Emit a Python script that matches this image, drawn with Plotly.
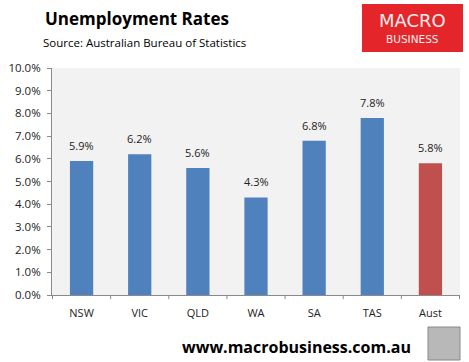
import plotly.graph_objects as go

categories = ["NSW", "VIC", "QLD", "WA", "SA", "TAS", "Aust"]
values = [5.9, 6.2, 5.6, 4.3, 6.8, 7.8, 5.8]
labels = ["5.9%", "6.2%", "5.6%", "4.3%", "6.8%", "7.8%", "5.8%"]
colors = ["#4f81bd"] * 6 + ["#c0504d"]
y_ticks = [i for i in range(0, 11)]
y_ticktext = [f"{v:.1f}%" for v in y_ticks]

W, H = 469, 362
L, R, T, B = 52, 9, 68, 67

fig = go.Figure(go.Bar(
    x=categories, y=values, marker=dict(color=colors, line=dict(width=0)),
    hoverinfo="x+y",
))

def px_x(x):
    return (x - L) / (W - L - R)

def px_y(y):
    return (y - B) / (H - T - B)

ann = [
    dict(text="<b>Unemployment Rates</b>", x=px_x(43), y=px_y(H - 18),
         xanchor="left", font=dict(family="Open Sans, DejaVu Sans", size=17, color="black")),
    dict(text="Source: Australian Bureau of Statistics", x=px_x(41), y=px_y(H - 42),
         xanchor="left", font=dict(family="Open Sans, DejaVu Sans", size=11.5, color="black")),
    dict(text="MACRO", x=px_x(412), y=px_y(H - 21), xanchor="center",
         font=dict(family="DejaVu Sans, Liberation Sans", size=18, color="#f6eeee")),
    dict(text="BUSINESS", x=px_x(412), y=px_y(H - 39), xanchor="center",
         font=dict(family="DejaVu Sans, Liberation Sans", size=10.5, color="#f6eeee")),
    dict(text="<b>www.macrobusiness.com.au</b>", x=px_x(296), y=px_y(H - 347), xanchor="center",
         font=dict(family="Open Sans, DejaVu Sans", size=16, color="black")),
]
for a in ann:
    a.update(xref="paper", yref="paper", showarrow=False, yanchor="middle")

for c, v, t in zip(categories, values, labels):
    ann.append(dict(text=t, x=c, y=v, xref="x", yref="y", showarrow=False,
                    yanchor="bottom", yshift=6,
                    font=dict(family="Open Sans, DejaVu Sans", size=11, color="#222")))

fig.update_layout(
    width=W, height=H,
    margin=dict(l=L, r=R, t=T, b=B),
    plot_bgcolor="#f2f2f2", paper_bgcolor="white",
    bargap=0.6, showlegend=False,
    font=dict(family="Open Sans, DejaVu Sans", size=11, color="#222"),
    xaxis=dict(showline=True, linecolor="#8a8a8a", linewidth=1,
               ticks="", showgrid=False, tickfont=dict(size=11),
               ticklabelstandoff=8),
    yaxis=dict(range=[0, 10], tickvals=y_ticks, ticktext=y_ticktext,
               showline=True, linecolor="#8a8a8a", linewidth=1,
               ticks="outside", ticklen=4, tickcolor="#8a8a8a",
               showgrid=False, zeroline=False, tickfont=dict(size=11.5),
               ticklabelstandoff=4),
    annotations=ann,
)

fig.add_shape(type="rect", xref="paper", yref="paper",
              x0=px_x(362), x1=px_x(463), y0=px_y(H - 52), y1=px_y(H - 4),
              fillcolor="#e4252a", line=dict(width=0), layer="below")
fig.add_shape(type="rect", xref="paper", yref="paper",
              x0=px_x(428), x1=px_x(460), y0=px_y(H - 360), y1=px_y(H - 327),
              fillcolor="#b8b8b8", line=dict(width=1, color="#888"), layer="below")

for i in range(len(categories) + 1):
    fig.add_shape(type="line", xref="x", yref="paper",
                  x0=i - 0.5, x1=i - 0.5, y0=0, y1=-0.018,
                  line=dict(color="#8a8a8a", width=1))

fig.write_html("out.html")
